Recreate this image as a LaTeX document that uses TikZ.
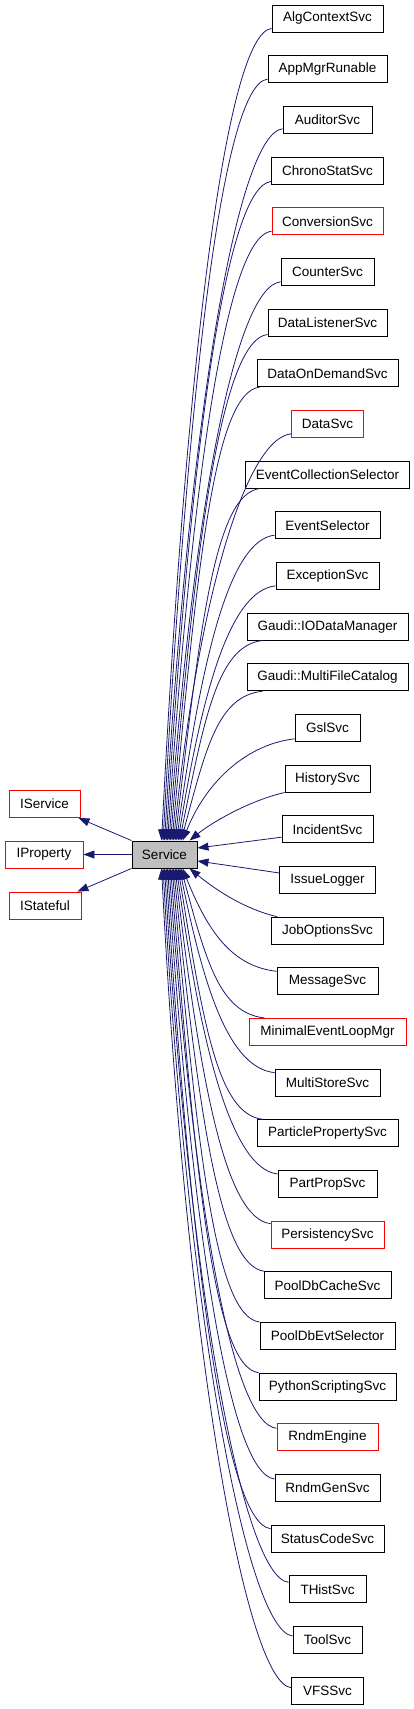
\documentclass[tikz,border=0pt]{standalone}
\usepackage{fontspec}
\setmainfont{Liberation Sans}
\usetikzlibrary{arrows.meta,calc}
\definecolor{edgec}{HTML}{191970}
\definecolor{boxgray}{HTML}{BFBFBF}
\begin{document}
\begin{tikzpicture}[x=1pt,y=-1pt,
  box/.style={draw=black, line width=0.9pt, minimum height=27pt, inner sep=0pt, font=\fontsize{13.5pt}{15pt}\selectfont},
  edge/.style={draw=edgec, line width=0.8pt, -{Triangle[length=11pt,width=8pt]}},
]
\useasboundingbox (0,0) rectangle (413,1709);
% left column and central node
\node[box, draw=red, minimum width=71pt] (iserv) at (44.5,804) {IService};
\node[box, draw=red, minimum width=78pt] (iprop) at (44,854.5) {IProperty};
\node[box, draw=red, minimum width=72pt] (istat) at (45,905.5) {IStateful};
\node[box, fill=boxgray, minimum width=65pt] (svc) at (164.5,854.5) {Service};
% right column
\foreach \i/\t/\w/\c in {
0/AlgContextSvc/111/black,
1/AppMgrRunable/119/black,
2/AuditorSvc/89/black,
3/ChronoStatSvc/112/black,
4/ConversionSvc/111/red,
5/CounterSvc/93/black,
6/DataListenerSvc/119/black,
7/DataOnDemandSvc/141/black,
8/DataSvc/72/red,
9/EventCollectionSelector/164/black,
10/EventSelector/105/black,
11/ExceptionSvc/103/black,
12/Gaudi::IODataManager/161/black,
13/Gaudi::MultiFileCatalog/161/black,
14/GslSvc/65/black,
15/HistorySvc/85/black,
16/IncidentSvc/91/black,
17/IssueLogger/96/black,
18/JobOptionsSvc/112/black,
19/MessageSvc/101/black,
20/MinimalEventLoopMgr/157/red,
21/MultiStoreSvc/105/black,
22/ParticlePropertySvc/141/black,
23/PartPropSvc/99/black,
24/PersistencySvc/113/red,
25/PoolDbCacheSvc/127/black,
26/PoolDbEvtSelector/135/black,
27/PythonScriptingSvc/137/black,
28/RndmEngine/101/red,
29/RndmGenSvc/105/black,
30/StatusCodeSvc/113/black,
31/THistSvc/77/black,
32/ToolSvc/69/black,
33/VFSSvc/72/black}
  \node[box, draw=\c, minimum width=\w pt] (n\i) at (327.5,{18.5+50.67*\i}) {\t};
% edges from upper boxes
\foreach \i/\sdx/\sdy in {0/0/-4,1/0/-4,2/0/-5,3/0/-3,4/0/-4,5/0/-4,6/0/-2,7/3/0,8/0/-4,9/15/0,10/0/-4,11/0/-4,12/16/0,13/16/0,14/0/-3}
  \draw[edge] ($(n\i.south west)+(\sdx,\sdy)$) .. controls +(-45,5) and +(25,{-0.6*(813-50.67*\i)}) .. ($(svc.north west)+({30+1.5*\i},0)$);
% edges from lower boxes
\foreach \i/\sdx/\sdy in {19/0/4,20/16/0,21/0/4,22/6/0,23/0/4,24/0/3,25/1/0,26/0/0,27/0/0,28/0/5,29/0/5,30/0/4,31/0/7,32/0/10,33/0/11}
  \draw[edge] ($(n\i.north west)+(\sdx,\sdy)$) .. controls +(-45,-5) and +(25,{0.6*(50.67*\i-859)}) .. ($(svc.south west)+({30+1.5*(33-\i)},0)$);
% edges near the middle
\draw[edge] (n15.south west) .. controls +(-35,8) and +(22,-18) .. ($(svc.north west)+(58,0)$);
\draw[edge] ($(n16.south west)+(0,-6)$) -- ($(svc.east)+(0,-6.5)$);
\draw[edge] ($(n17.north west)+(0,7)$) -- ($(svc.east)+(0,6.5)$);
\draw[edge] ($(n18.north west)+(6,0)$) .. controls +(-35,-8) and +(22,18) .. ($(svc.south west)+(58,0)$);
% edges to the left
\draw[edge] (svc.north west) -- ($(iserv.south east)+(-2,0)$);
\draw[edge] (svc.west) -- (iprop.east);
\draw[edge] (svc.south west) -- ($(istat.north east)+(-4,0)$);
\end{tikzpicture}
\end{document}
